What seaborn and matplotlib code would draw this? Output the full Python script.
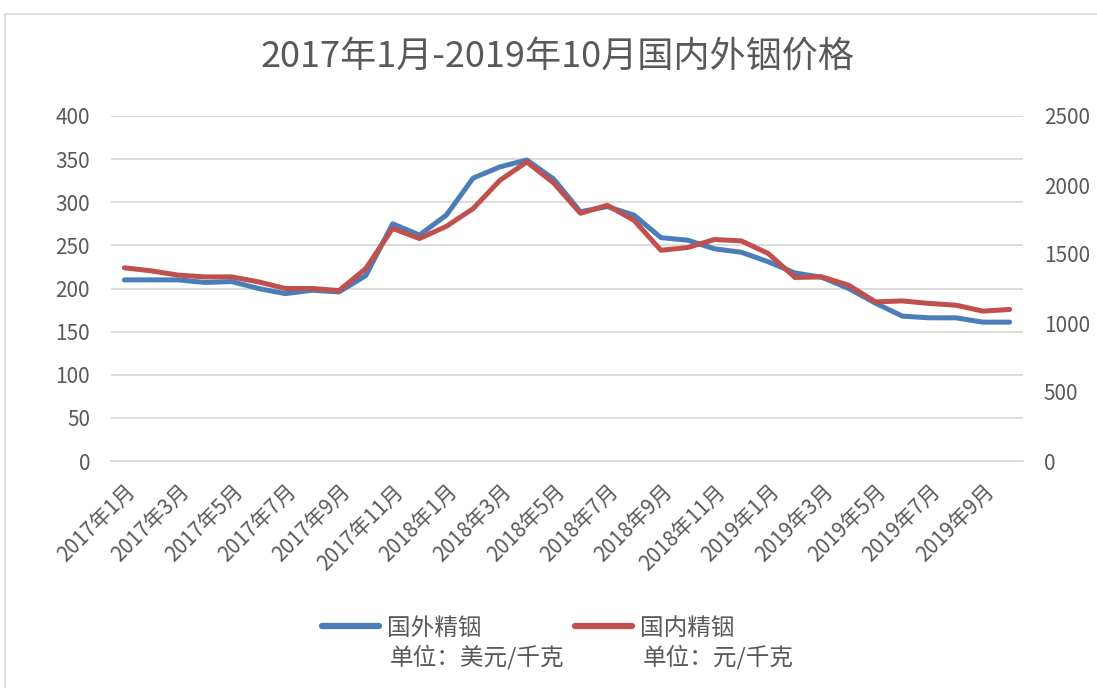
import matplotlib
matplotlib.use("Agg")
import matplotlib.pyplot as plt
import seaborn as sns
import pandas as pd
import numpy as np
from matplotlib.lines import Line2D
from matplotlib.patches import Rectangle

sns.set_theme(style="white")
plt.rcParams['font.family'] = ['Noto Sans CJK SC', 'DejaVu Sans']

# ---- data ----
months = [f"{y}年{m}月" for y in (2017, 2018, 2019) for m in range(1, 13)][:34]
foreign_usd = [210, 210, 210, 207, 208, 200, 194, 198, 196, 215, 275, 262,
               285, 328, 341, 349, 327, 289, 295, 285, 259, 256, 246, 242,
               231, 218, 213, 200, 183, 168, 166, 166, 161, 161]
domestic_cny = [1400, 1378, 1347, 1334, 1334, 1298, 1250, 1250, 1235, 1395, 1685, 1612,
                1700, 1829, 2034, 2167, 2015, 1795, 1853, 1744, 1527, 1547, 1605, 1595,
                1504, 1330, 1334, 1274, 1153, 1160, 1142, 1129, 1086, 1098]
left_ticks = [0, 50, 100, 150, 200, 250, 300, 350, 400]
right_ticks = [0, 500, 1000, 1500, 2000, 2500]
title = "2017年1月-2019年10月国内外铟价格"
names = ["国外精铟", "国内精铟"]
units = ["单位：美元/千克", "单位：元/千克"]

df = pd.DataFrame({"idx": np.arange(len(months)), "month": months,
                   "foreign": foreign_usd, "domestic": domestic_cny})

BLUE = "#4a7ebb"
RED = "#c0504d"
GRID = "#d9d9d9"
TXT = "#595959"

fig = plt.figure(figsize=(10.97, 6.88), dpi=100)
W, H = 1097, 688
ax = fig.add_axes([111 / W, 1 - 461 / H, (1023 - 111) / W, (461 - 116) / H])
ax2 = ax.twinx()

sns.lineplot(data=df, x="idx", y="foreign", ax=ax, color=BLUE, linewidth=3.6,
             solid_joinstyle="round", solid_capstyle="round")
sns.lineplot(data=df, x="idx", y="domestic", ax=ax2, color=RED, linewidth=3.6,
             solid_joinstyle="round", solid_capstyle="round")

n = len(months)
ax.set_xlim(-0.5, n - 0.5)
ax.set_ylim(0, 400)
ax2.set_ylim(0, 2500)
ax.set_yticks(left_ticks)
ax2.set_yticks(right_ticks)
ax.set_xlabel("")
ax.set_ylabel("")
ax2.set_ylabel("")

ax.yaxis.grid(True, color=GRID, linewidth=1.3)
ax.set_axisbelow(True)
ax2.grid(False)

for a in (ax, ax2):
    for s in ("left", "right", "top", "bottom"):
        a.spines[s].set_visible(False)
ax.spines["bottom"].set_visible(True)
ax.spines["bottom"].set_color(GRID)
ax.spines["bottom"].set_linewidth(1.3)

# x labels at every other category centre; tick marks at category boundaries
ax.set_xticks(np.arange(0, n, 2))
ax.set_xticklabels([months[i] for i in range(0, n, 2)], rotation=45,
                   ha="right", va="top", rotation_mode="anchor",
                   fontsize=15, color=TXT)
ax.tick_params(axis="x", which="major", length=0, pad=14)
ax.set_xticks(np.concatenate([np.arange(-0.5, n, 2), [n - 0.5]]), minor=True)
ax.tick_params(axis="x", which="minor", length=7, width=1.3, color=GRID, direction="out")

ax.tick_params(axis="y", length=0, pad=15, labelsize=15, labelcolor=TXT)
ax2.tick_params(axis="y", length=0, pad=15, labelsize=15, labelcolor=TXT)

fig.text(0.508, 1 - 57 / H, title, ha="center", va="center", fontsize=26, color=TXT)

# legend
for c, nm, un, x0, xt in zip([BLUE, RED], names, units, [322, 575], [390, 643]):
    h = Line2D([], [], color=c, linewidth=4.5, solid_capstyle="round")
    leg = fig.legend([h], [nm], loc="center left", bbox_to_anchor=(x0 / W, 1 - 628 / H),
                     frameon=False, fontsize=17, handlelength=2.4, handletextpad=0.35,
                     borderpad=0, borderaxespad=0)
    for t in leg.get_texts():
        t.set_color(TXT)
    fig.text(xt / W, 1 - 657 / H, un, ha="left", va="center", fontsize=17, color=TXT)

# chart frame
fig.add_artist(Rectangle((5 / W, -0.05), 1.2, 1 - 14 / H + 0.05, transform=fig.transFigure,
                         fill=False, edgecolor=GRID, linewidth=1.3))

fig.savefig("out.png", dpi=100)
